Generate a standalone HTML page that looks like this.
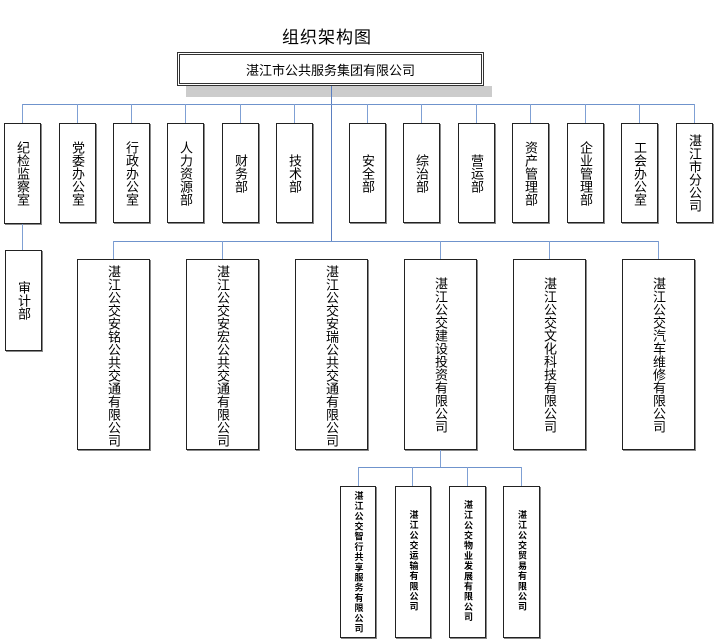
<!DOCTYPE html>
<html><head><meta charset="utf-8"><style>
body{margin:0;width:714px;height:642px;background:#fff;position:relative;overflow:hidden;font-family:"Liberation Sans","Noto Sans CJK SC",sans-serif;color:#000}
.b{position:absolute;box-sizing:border-box;border:1px solid #222;box-shadow:1px 1px 0 #888;background:#fff;display:flex;justify-content:center;align-items:center}
.v{writing-mode:vertical-rl;font-size:13px;line-height:13px;letter-spacing:0px}
.t{align-items:flex-start}
.h{position:absolute;background:#6f93cc;height:1px}
.l{position:absolute;background:#7fa0d4;width:1px}
.s{font-size:9px;font-weight:bold;line-height:9px;letter-spacing:1.2px}
</style></head><body>
<div style="position:absolute;left:282px;top:23px;font-size:17px;letter-spacing:1px">组织架构图</div>
<div style="position:absolute;left:186px;top:86px;width:306px;height:11px;background:#ccc"></div>
<div style="position:absolute;left:177px;top:52px;width:307px;height:34px;box-sizing:border-box;border:3px double #333;background:#fff;display:flex;justify-content:center;align-items:center;font-size:13px">湛江市公共服务集团有限公司</div>
<div class="l" style="left:331px;top:86px;height:155px;background:#5b7fc0"></div>
<div class="h" style="left:22px;top:104px;width:673px"></div>
<div class="l" style="left:22px;top:104px;height:19px"></div>
<div class="l" style="left:77px;top:104px;height:19px"></div>
<div class="l" style="left:131px;top:104px;height:19px"></div>
<div class="l" style="left:185px;top:104px;height:19px"></div>
<div class="l" style="left:240px;top:104px;height:19px"></div>
<div class="l" style="left:294px;top:104px;height:19px"></div>
<div class="l" style="left:367px;top:104px;height:19px"></div>
<div class="l" style="left:421px;top:104px;height:19px"></div>
<div class="l" style="left:476px;top:104px;height:19px"></div>
<div class="l" style="left:530px;top:104px;height:19px"></div>
<div class="l" style="left:585px;top:104px;height:19px"></div>
<div class="l" style="left:639px;top:104px;height:19px"></div>
<div class="l" style="left:694px;top:104px;height:19px"></div>
<div class="b" style="left:4px;top:123px;width:37px;height:101px"><span class="v">纪检监察室</span></div>
<div class="b" style="left:59px;top:123px;width:37px;height:100px"><span class="v">党委办公室</span></div>
<div class="b" style="left:113px;top:123px;width:37px;height:100px"><span class="v">行政办公室</span></div>
<div class="b" style="left:167px;top:123px;width:37px;height:100px"><span class="v">人力资源部</span></div>
<div class="b" style="left:222px;top:123px;width:37px;height:100px"><span class="v">财务部</span></div>
<div class="b" style="left:276px;top:123px;width:37px;height:100px"><span class="v">技术部</span></div>
<div class="b" style="left:349px;top:123px;width:37px;height:100px"><span class="v">安全部</span></div>
<div class="b" style="left:403px;top:123px;width:37px;height:100px"><span class="v">综治部</span></div>
<div class="b" style="left:458px;top:123px;width:37px;height:100px"><span class="v">营运部</span></div>
<div class="b" style="left:512px;top:123px;width:37px;height:100px"><span class="v">资产管理部</span></div>
<div class="b" style="left:567px;top:123px;width:37px;height:100px"><span class="v">企业管理部</span></div>
<div class="b" style="left:621px;top:123px;width:37px;height:100px"><span class="v">工会办公室</span></div>
<div class="b" style="left:676px;top:123px;width:37px;height:100px"><span class="v">湛江市分公司</span></div>
<div class="l" style="left:22px;top:224px;height:26px"></div>
<div class="b" style="left:5px;top:250px;width:37px;height:101px"><span class="v">审计部</span></div>
<div class="h" style="left:113px;top:241px;width:545px"></div>
<div class="l" style="left:113px;top:241px;height:19px"></div>
<div class="l" style="left:222px;top:241px;height:19px"></div>
<div class="l" style="left:440px;top:241px;height:19px"></div>
<div class="l" style="left:549px;top:241px;height:19px"></div>
<div class="l" style="left:658px;top:241px;height:19px"></div>
<div class="b t" style="left:77px;top:259px;width:73px;height:191px;padding-top:5px"><span class="v">湛江公交安铭公共交通有限公司</span></div>
<div class="b t" style="left:186px;top:259px;width:73px;height:191px;padding-top:5px"><span class="v">湛江公交安宏公共交通有限公司</span></div>
<div class="b t" style="left:295px;top:259px;width:73px;height:191px;padding-top:5px"><span class="v">湛江公交安瑞公共交通有限公司</span></div>
<div class="b t" style="left:404px;top:259px;width:73px;height:191px;padding-top:17px"><span class="v">湛江公交建设投资有限公司</span></div>
<div class="b t" style="left:513px;top:259px;width:73px;height:191px;padding-top:17px"><span class="v">湛江公交文化科技有限公司</span></div>
<div class="b t" style="left:622px;top:259px;width:73px;height:191px;padding-top:17px"><span class="v">湛江公交汽车维修有限公司</span></div>
<div class="l" style="left:440px;top:450px;height:17px"></div>
<div class="h" style="left:358px;top:467px;width:164px"></div>
<div class="l" style="left:358px;top:467px;height:19px"></div>
<div class="l" style="left:412px;top:467px;height:19px"></div>
<div class="l" style="left:467px;top:467px;height:19px"></div>
<div class="l" style="left:521px;top:467px;height:19px"></div>
<div class="b t" style="left:340px;top:486px;width:36px;height:152px;padding-top:4px"><span class="v s">湛江公交智行共享服务有限公司</span></div>
<div class="b t" style="left:395px;top:486px;width:36px;height:152px;padding-top:23px"><span class="v s">湛江公交运输有限公司</span></div>
<div class="b t" style="left:449px;top:486px;width:37px;height:152px;padding-top:13px"><span class="v s">湛江公交物业发展有限公司</span></div>
<div class="b t" style="left:503px;top:486px;width:37px;height:152px;padding-top:23px"><span class="v s">湛江公交贸易有限公司</span></div>
</body></html>
